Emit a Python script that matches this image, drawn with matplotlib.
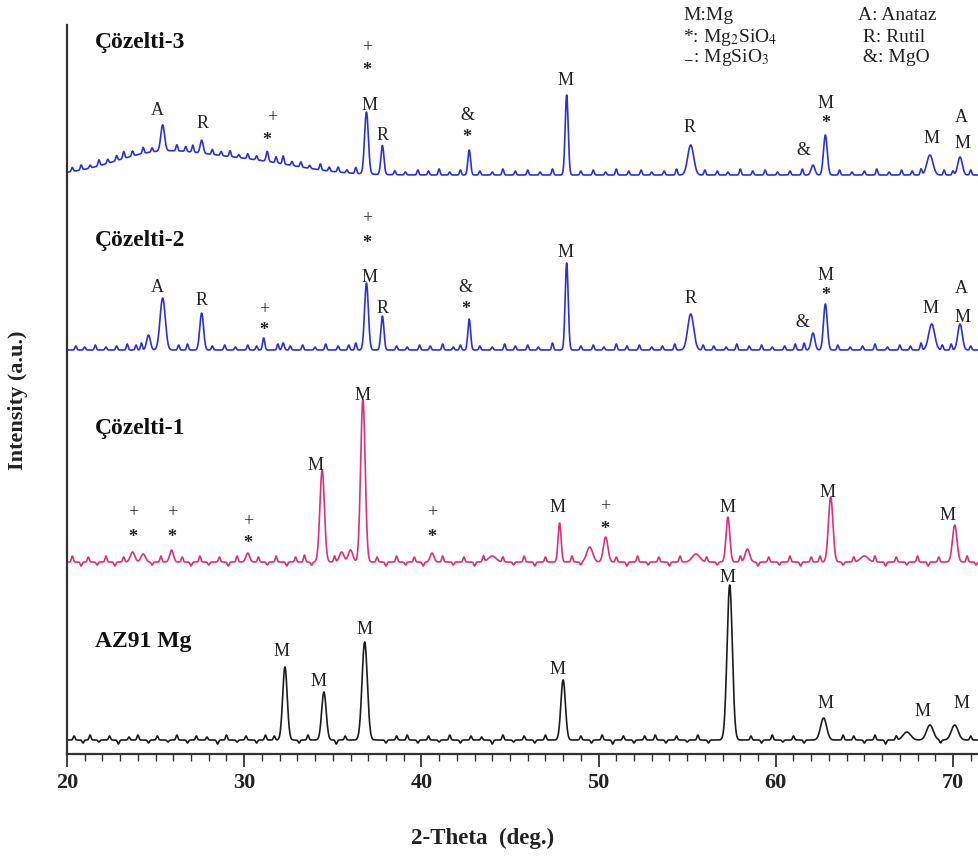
import numpy as np
import matplotlib.pyplot as plt
from matplotlib.ticker import MultipleLocator

plt.rcParams['font.family'] = ['Liberation Serif', 'DejaVu Serif']
plt.rcParams['mathtext.fontset'] = 'stix'

X_MIN, X_MAX = 20, 71.47
Y_MAX = 729

# sample names, trace colours, baseline offsets (a.u.) and name positions
NAMES = ['AZ91 Mg', 'Çözelti-1', 'Çözelti-2', 'Çözelti-3']
COLORS = ['#1c1c1c', '#dc2f7c', '#2a32d4', '#2a32d4']
OFFSETS = [14, 192, 404, 579]
NAME_Y = [112, 326, 514, 712]

# reflections: 2-theta (deg), height (a.u.), FWHM (deg)
AZ91_POS = [32.3, 34.5, 36.8, 48.0, 57.4, 62.7, 67.4, 68.7, 70.1]
AZ91_HGT = [73, 48, 98, 60, 155, 22, 8, 15, 15]
AZ91_FWHM = [0.3, 0.3, 0.35, 0.3, 0.35, 0.4, 0.5, 0.45, 0.45]

C1_POS = [23.7, 24.3, 25.9, 30.2, 34.4, 35.5, 36.0, 36.7, 40.6, 44.0, 47.8,
          49.5, 50.4, 55.5, 57.3, 58.4, 63.1, 65.0, 70.1]
C1_HGT = [10, 8, 12, 9, 92, 10, 12, 163, 9, 6, 39, 15, 25, 8, 45, 13, 65, 6, 37]
C1_FWHM = [0.3, 0.3, 0.25, 0.25, 0.3, 0.3, 0.3, 0.3, 0.25, 0.5, 0.2, 0.4,
           0.3, 0.5, 0.25, 0.3, 0.3, 0.5, 0.3]

C2_POS = [24.6, 25.4, 27.6, 31.1, 32.2, 36.9, 37.8, 42.7, 48.2, 55.2, 62.1,
          62.8, 68.8, 70.4]
C2_HGT = [15, 52, 37, 12, 7, 67, 34, 31, 87, 36, 17, 46, 26, 26]
C2_FWHM = [0.25, 0.35, 0.25, 0.15, 0.15, 0.25, 0.2, 0.18, 0.2, 0.4, 0.25,
           0.25, 0.4, 0.3]

C3_POS = [25.0, 30.0, 25.4, 27.6, 31.3, 36.9, 37.8, 42.7, 48.2, 55.2, 62.1,
          62.8, 68.7, 70.4]
C3_HGT = [20, 14, 26, 13, 10, 62, 29, 25, 80, 30, 10, 40, 20, 18]
C3_FWHM = [5.9, 7.1, 0.25, 0.2, 0.15, 0.25, 0.2, 0.18, 0.2, 0.4, 0.25, 0.25,
           0.4, 0.3]

# small background spikes seen along each trace
AZ91_NOISE_POS = [20.4, 20.9, 21.3, 21.8, 22.4, 22.9, 23.5, 24.0, 24.6, 25.1,
                  25.7, 26.2, 26.8, 27.3, 27.9, 28.5, 29.0, 29.6, 30.1, 30.7,
                  31.2, 31.7, 33.1, 33.6, 35.2, 35.7, 38.0, 38.6, 39.2, 39.8,
                  40.4, 41.0, 41.6, 42.2, 42.8, 43.4, 44.0, 44.6, 45.2, 45.8,
                  46.4, 47.0, 49.0, 49.6, 50.2, 50.8, 51.4, 52.0, 52.6, 53.2,
                  53.8, 54.4, 55.0, 55.6, 56.2, 58.6, 59.2, 59.8, 60.4, 61.0,
                  61.6, 63.8, 64.4, 65.0, 65.6, 66.2, 66.8, 69.3, 71.0]
AZ91_NOISE_HGT = [4, -3, 5, -2, 4, -4, 3, 5, -3, 4, -2, 5, -3, 4, 3, -4, 5, -2,
                  4, -3, 5, 4, -3, 5, -4, 4, -3, 4, 5, -3, 4, -2, 5, -3, 4, 3,
                  -4, 5, -2, 4, -3, 5, 4, -3, 5, -4, 4, -3, 4, 5, -3, 4, -2, 5,
                  -3, 4, -3, 5, -2, 4, -3, 5, 4, -3, 5, -4, 4, -3, 4]

C1_NOISE_POS = [20.3, 20.8, 21.2, 21.7, 22.2, 22.7, 23.2, 24.8, 25.3, 26.5,
                27.0, 27.5, 28.0, 28.6, 29.1, 29.6, 30.8, 31.3, 31.8, 32.4,
                32.9, 33.4, 33.8, 35.1, 37.5, 38.0, 38.6, 39.1, 39.6, 40.1,
                41.2, 41.8, 42.4, 43.0, 43.5, 44.6, 45.2, 45.8, 46.4, 47.0,
                48.5, 49.0, 51.0, 51.6, 52.2, 52.8, 53.4, 54.0, 54.6, 56.1,
                56.7, 58.0, 59.0, 59.6, 60.2, 60.8, 61.4, 62.0, 62.5, 63.8,
                64.4, 65.6, 66.2, 66.8, 67.4, 68.0, 68.6, 69.2, 70.8, 71.3]
C1_NOISE_HGT = [6, -4, 5, -3, 6, -4, 5, -3, 6, 5, -4, 6, -3, 5, -4, 6, 5, -3,
                6, -4, 5, 7, -3, 6, 5, -4, 6, -3, 5, -4, 6, -3, 5, -4, 6, 5,
                -3, 6, -4, 5, 6, -3, 5, -4, 6, -3, 5, -4, 6, 5, -3, 6, -4, 5,
                -3, 6, -4, 5, 6, -3, 5, 6, -4, 5, -3, 6, -4, 5, 6, -3]

C2_NOISE_POS = [20.5, 21.0, 21.6, 22.2, 22.8, 23.4, 23.9, 24.2, 26.3, 26.8,
                28.2, 28.9, 29.5, 30.2, 30.7, 31.9, 32.6, 33.3, 34.0, 34.6,
                35.3, 35.9, 36.3, 38.6, 39.2, 39.9, 40.5, 41.2, 41.8, 42.2,
                43.3, 44.0, 44.7, 45.3, 46.0, 46.6, 47.4, 49.0, 49.7, 50.3,
                51.0, 51.6, 52.3, 53.0, 53.6, 54.3, 55.9, 56.5, 57.2, 57.8,
                58.5, 59.2, 59.8, 60.5, 61.1, 61.6, 63.5, 64.2, 64.9, 65.6,
                66.3, 67.0, 67.6, 68.2, 69.4, 69.9, 71.0]
C2_NOISE_HGT = [4, 3, 5, 3, 4, 6, 5, 7, 5, 6, 4, 5, 3, 5, 4, 6, 4, 5, 3, 6, 4,
                5, 7, 4, 3, 5, 4, 6, 3, 5, 4, 3, 6, 4, 5, 3, 7, 4, 5, 3, 6, 4,
                5, 3, 4, 6, 5, 4, 3, 6, 4, 5, 3, 4, 6, 7, 5, 3, 4, 6, 3, 5, 4,
                7, 5, 6, 4]

C3_NOISE_POS = [20.3, 20.8, 21.3, 21.8, 22.3, 22.8, 23.2, 23.7, 24.3, 24.8,
                26.2, 26.7, 27.1, 28.2, 28.7, 29.2, 29.7, 30.2, 30.7, 31.8,
                32.2, 32.7, 33.2, 33.7, 34.3, 34.8, 35.3, 35.8, 36.3, 38.5,
                39.1, 39.8, 40.4, 41.0, 41.6, 42.2, 43.3, 44.0, 44.6, 45.3,
                46.0, 46.7, 47.4, 49.0, 49.7, 50.4, 51.0, 51.7, 52.4, 53.0,
                53.7, 54.4, 56.0, 56.7, 57.3, 58.0, 58.7, 59.4, 60.1, 60.8,
                61.5, 63.6, 64.3, 65.0, 65.7, 66.4, 67.1, 67.7, 68.2, 69.5,
                70.0, 71.0]
C3_NOISE_HGT = [4, 5, 3, 6, 4, 5, 7, 5, 6, 4, 6, 5, 7, 5, 4, 6, 3, 5, 4, 6, 8,
                4, 5, 3, 6, 4, 5, 3, 6, 4, 3, 5, 4, 6, 3, 5, 4, 3, 6, 4, 5, 3,
                6, 4, 5, 3, 6, 4, 5, 3, 4, 6, 5, 4, 3, 6, 4, 5, 3, 4, 6, 5, 3,
                4, 6, 3, 5, 4, 6, 5, 4, 5]
NOISE_FWHM = 0.12

# phase labels: 2-theta, height (a.u.), symbol
AZ91_LBL_X = [32.1, 34.2, 36.8, 47.7, 57.25, 62.8, 68.3, 70.5]
AZ91_LBL_Y = [102, 72, 124, 84, 176, 51, 42, 51]
AZ91_LBL_T = ['M'] * 8

C1_LBL_X = [23.72, 23.72, 25.92, 25.92, 30.2, 30.2, 34.0, 36.7, 40.6, 40.6,
            47.7, 50.36, 50.36, 57.25, 62.9, 69.7]
C1_LBL_Y = [241, 217, 241, 217, 232, 211, 289, 359, 241, 217, 247, 247, 224,
            247, 262, 239]
C1_LBL_T = ['+', '*', '+', '*', '+', '*', 'M', 'M', '+', '*', 'M', '+', '*',
            'M', 'M', 'M']

C2_LBL_X = [25.08, 27.6, 31.1, 31.1, 36.93, 36.93, 37.1, 37.83, 42.5, 42.5,
            48.16, 55.2, 61.5, 62.83, 62.83, 68.75, 70.45, 70.56]
C2_LBL_Y = [467, 454, 444, 424, 535, 511, 477, 446, 467, 445, 502, 456, 432,
            479, 459, 446, 466, 437]
C2_LBL_T = ['A', 'R', '+', '*', '+', '*', 'M', 'R', '&', '*', 'M', 'R', '&',
            'M', '*', 'M', 'A', 'M']

C3_LBL_X = [25.08, 27.67, 31.57, 31.29, 36.93, 36.93, 37.1, 37.83, 42.57,
            42.57, 48.16, 55.16, 61.54, 62.83, 62.83, 68.81, 70.45, 70.56]
C3_LBL_Y = [644, 631, 636, 614, 706, 684, 649, 619, 639, 617, 674, 627, 604,
            651, 631, 616, 637, 611]
C3_LBL_T = ['A', 'R', '+', '*', '+', '*', 'M', 'R', '&', '*', 'M', 'R', '&',
            'M', '*', 'M', 'A', 'M']

LEGEND_LEFT = ['M:Mg', '*: Mg$_2$SiO$_4$', '$_{-}$: MgSiO$_3$']
LEGEND_RIGHT = ['A: Anataz', ' R: Rutil', ' &: MgO']


def pattern(x, pos, hgt, fwhm):
    y = np.zeros_like(x)
    for p, h, w in zip(pos, hgt, fwhm):
        s = w / 2.3548
        y += h * np.exp(-0.5 * ((x - p) / s) ** 2)
    return y


two_theta = np.arange(X_MIN, X_MAX + 0.01, 0.01)

peaks = [(AZ91_POS, AZ91_HGT, AZ91_FWHM), (C1_POS, C1_HGT, C1_FWHM),
         (C2_POS, C2_HGT, C2_FWHM), (C3_POS, C3_HGT, C3_FWHM)]
noise = [(AZ91_NOISE_POS, AZ91_NOISE_HGT), (C1_NOISE_POS, C1_NOISE_HGT),
         (C2_NOISE_POS, C2_NOISE_HGT), (C3_NOISE_POS, C3_NOISE_HGT)]
labels = [(AZ91_LBL_X, AZ91_LBL_Y, AZ91_LBL_T), (C1_LBL_X, C1_LBL_Y, C1_LBL_T),
          (C2_LBL_X, C2_LBL_Y, C2_LBL_T), (C3_LBL_X, C3_LBL_Y, C3_LBL_T)]

fig = plt.figure(figsize=(9.79, 8.56), dpi=100)
ax = fig.add_axes([67 / 979, 1 - 754 / 856, 1 - 67 / 979, (754 - 25) / 856])

for i in range(4):
    pos, hgt, fwhm = peaks[i]
    npos, nhgt = noise[i]
    y = OFFSETS[i] + pattern(two_theta, pos, hgt, fwhm) \
        + pattern(two_theta, npos, nhgt, [NOISE_FWHM] * len(npos))
    ax.plot(two_theta, y, color=COLORS[i], lw=1.2)
    ax.text(21.6, NAME_Y[i], NAMES[i], fontsize=17, fontweight='bold',
            va='center', ha='left', color='#111111')
    for lx, ly, lt in zip(*labels[i]):
        ax.text(lx, ly, lt, fontsize=13, ha='center', va='center',
                color='#222222', fontweight='bold' if lt == '*' else 'normal')

for k in range(3):
    fig.text(683 / 979, 1 - (16 + 21 * k) / 856, LEGEND_LEFT[k], fontsize=14,
             ha='left', va='center', color='#222222')
    fig.text(858 / 979, 1 - (16 + 21 * k) / 856, LEGEND_RIGHT[k], fontsize=14,
             ha='left', va='center', color='#222222')

ax.set_xlim(X_MIN, X_MAX)
ax.set_ylim(0, Y_MAX)
ax.spines['top'].set_visible(False)
ax.spines['right'].set_visible(False)
ax.spines['left'].set_linewidth(1.6)
ax.spines['bottom'].set_linewidth(1.6)
ax.spines['left'].set_color('#333333')
ax.spines['bottom'].set_color('#333333')
ax.set_yticks([])
ax.xaxis.set_major_locator(MultipleLocator(10))
ax.xaxis.set_minor_locator(MultipleLocator(1))
ax.tick_params(axis='x', which='major', direction='out', length=9, width=1.2,
               pad=5, labelsize=16, colors='#222222')
ax.tick_params(axis='x', which='minor', direction='out', length=5, width=1.0,
               colors='#333333')
for lab in ax.get_xticklabels():
    lab.set_fontweight('bold')

fig.text(483 / 979, 1 - 838 / 856, '2-Theta  (deg.)', fontsize=16.5,
         fontweight='bold', ha='center', va='center', color='#222222')
fig.text(18 / 979, 1 - 400 / 856, 'Intensity (a.u.)', fontsize=16,
         fontweight='bold', ha='center', va='center', rotation=90,
         color='#222222')

fig.savefig('out.png', dpi=100)
